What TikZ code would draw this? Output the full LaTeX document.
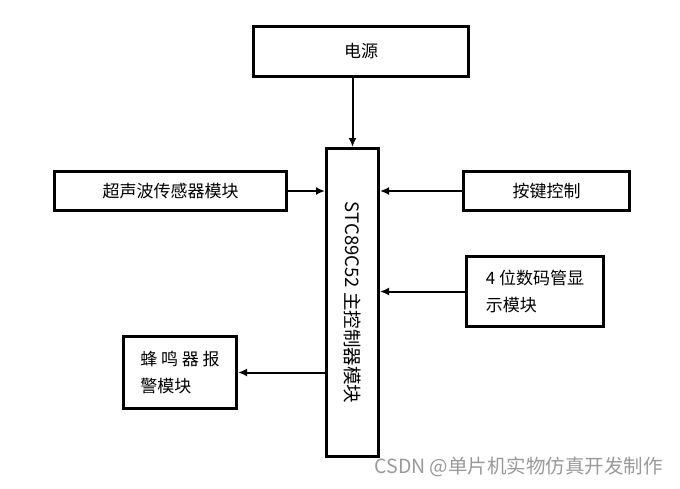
\documentclass[tikz,border=0pt]{standalone}
\usepackage{fontspec}
\usepackage{graphicx}
\setmainfont{Noto Sans CJK SC}
\usetikzlibrary{arrows.meta}

\begin{document}
\begin{tikzpicture}[x=1pt, y=-1pt, node distance=180pt,
    block/.style={rectangle, draw, line width=3pt, inner sep=0pt, align=left, font=\fontsize{17}{27}\selectfont},
    link/.style={->, line width=2pt},
    >={Latex[length=9pt,width=8pt]}]

    \useasboundingbox (0,0) rectangle (680,488);

    % Power supply on top
    \node (power) [block, minimum width=215pt, minimum height=50pt] at (361,51) {电源};

    % Main controller in the middle
    \node (main) [block, minimum width=52pt, minimum height=308pt, below of=power, xshift=-8.5pt, yshift=-71.5pt] {\rotatebox{-90}{\fontsize{18.5}{20}\selectfont STC89C52 主控制器模块}};
    \draw[link] (power.south -| main.north) -- (main.north);

    % Inputs
    \node (ultra) [block, minimum width=232pt, minimum height=39pt, left of=main, xshift=-2pt, yshift=111.5pt] {超声波传感器模块};
    \draw[link] (ultra.east) -- (ultra.east -| main.west);

    \node (key) [block, minimum width=166pt, minimum height=39pt, right of=main, xshift=14pt, yshift=111.5pt] {按键控制};
    \draw[link] (key.west) -- (key.west -| main.east);

    % Outputs
    \node (digit) [block, minimum width=137pt, minimum height=70pt, right of=main, xshift=2.5pt, yshift=11pt] {4 位数码管显\\示模块};
    \draw[link] (digit.west) -- (digit.west -| main.east);

    \node (buzzer) [block, minimum width=113pt, minimum height=72pt, left of=main, xshift=7.5pt, yshift=-70pt] {蜂 鸣 器 报\\警模块};
    \draw[link] (buzzer.east -| main.west) -- (buzzer.east);

    % Watermark
    \node (mark) [anchor=west, text=black!40, font=\fontsize{19.5}{21}\selectfont] at (371,467) {CSDN @单片机实物仿真开发制作};

\end{tikzpicture}
\end{document}
